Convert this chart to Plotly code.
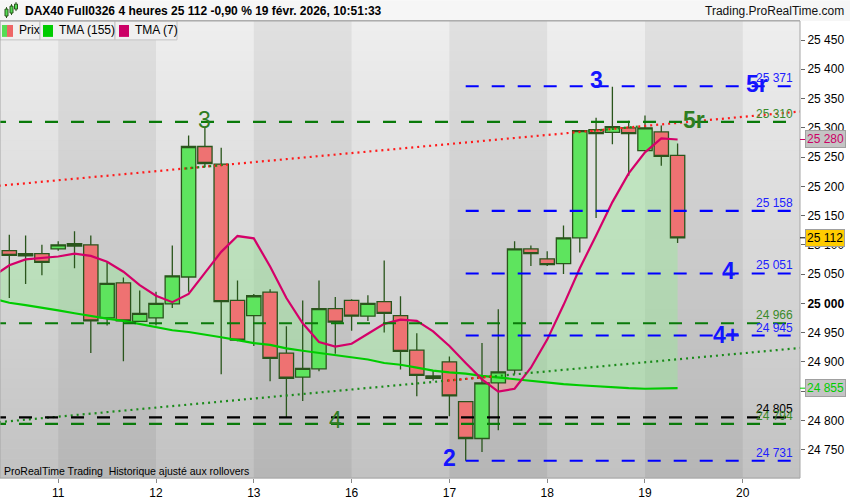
import plotly.graph_objects as go
import numpy as np

# ---------------- data ----------------
day_labels = ["11", "12", "13", "16", "17", "18", "19", "20"]
day_start = [3, 9, 15, 21, 27, 33, 39, 45]          # candle index of first 4h bar of each day
dark_days = [3, 15, 27, 39]                          # days drawn with darker background band

candle_idx = list(range(42))
open_ = [25090, 25081, 25085, 25093, 25102, 25100, 24975, 25035, 24969, 24975,
         24999, 25045, 25268, 25238, 25005, 24979, 25019, 24915, 24874, 24888,
         24991, 25005, 24978, 25003, 24979, 24920, 24876, 24900, 24832, 24769,
         24864, 24886, 25093, 25076, 25068, 25112, 25297, 25292, 25300, 25261,
         25293, 25253]
high = [25117, 25116, 25100, 25106, 25123, 25116, 25071, 25044, 25022, 25020,
        25099, 25287, 25301, 25266, 25039, 25016, 25024, 24961, 25005, 25039,
        25011, 25007, 25014, 25073, 25012, 24949, 24885, 24909, 24832, 24932,
        24990, 25106, 25099, 25089, 25133, 25296, 25317, 25370, 25312, 25321,
        25304, 25273]
low = [25009, 25033, 25048, 25090, 25060, 24915, 24962, 24901, 24968, 24962,
       24992, 25020, 25233, 24879, 24935, 24927, 24867, 24804, 24833, 24884,
       24914, 24953, 24970, 24950, 24887, 24841, 24868, 24807, 24731, 24746,
       24783, 24879, 25064, 25064, 25050, 25087, 25146, 25272, 25218, 25261,
       25235, 25103]
close = [25082, 25085, 25070, 25100, 25098, 24970, 25034, 24970, 24983, 25000,
         25047, 25268, 25239, 25003, 24937, 25013, 24906, 24872, 24889, 24991,
         24968, 24978, 25000, 24983, 24918, 24877, 24872, 24842, 24769, 24864,
         24883, 25093, 25085, 25066, 25112, 25295, 25290, 25302, 25290, 25300,
         25251, 25112]

ma_idx = list(range(-1, 42))
tma155 = [25008, 25001, 24997, 24993, 24988, 24983, 24978, 24974, 24970, 24965,
          24959, 24954, 24951, 24947, 24942, 24937, 24932, 24929, 24923, 24919,
          24915, 24912, 24908, 24904, 24898, 24895, 24890, 24885, 24882, 24880,
          24876, 24873, 24870, 24867, 24864, 24862, 24860, 24858, 24856, 24855,
          24854, 24854, 24855]
tma7 = [25046, 25065, 25075, 25077, 25080, 25085, 25081, 25071, 25054, 25031,
        25013, 25002, 25016, 25052, 25088, 25115, 25111, 25063, 25009, 24966,
        24934, 24926, 24931, 24948, 24965, 24972, 24970, 24952, 24927, 24898,
        24870, 24849, 24854, 24890, 24938, 24997, 25060, 25116, 25173, 25222,
        25258, 25282, 25280]

level_vals = [25371, 25310, 25158, 25051, 24966, 24945, 24805, 24794, 24731]
level_text = ["25 371", "25 310", "25 158", "25 051", "24 966", "24 945", "24 805", "24 794", "24 731"]
level_kind = ["blue", "green", "blue", "blue", "green", "blue", "black", "green", "blue"]
level_from = [28, -1, 28, 28, -1, 28, -1, -1, 28]
level_to = 48.2

wave_text = ["3", "4", "2", "3", "4", "4+", "5r", "5r"]
wave_x = [12, 20, 27, 36, 44.1, 44, 45.9, 42]
wave_y = [25314, 24800, 24735, 25381, 25056, 24946, 25374, 25314]
wave_kind = ["green", "green", "blue", "blue", "blue", "blue", "blue", "green"]

chan_x = [-1, 49]
chan_upper = [25200, 25329]
chan_lower = [24796, 24925]
upper_green_parts = [(10.8, 13.1), (35.5, 38.7)]
lower_red_parts = [(26.9, 29.8)]

ytick_vals = list(range(24750, 25451, 50))

last_price = 25112
tma7_last = 25280
tma155_last = 24855

title_txt = "DAX40 Full0326 4 heures 25 112 -0,90 % 19 févr. 2026, 10:51:33"

# ---------------- helpers ----------------
FONT = "Liberation Sans, Arial, sans-serif"
PW, TOP, BOT = 800.0, 21.0, 481.0
PH = BOT - TOP
XR = [-0.571, 48.51]
YR = [24701.5, 25482.5]


def px(x):
    return x / PW


def py(y):
    return (BOT - y) / PH


def fmt(v):
    return f"{v:,}".replace(",", " ")


COL = {"blue": "#0000ff", "green": "#0a7a0a", "black": "#000000"}
TXTCOL = {"blue": "#2020ff", "green": "#3a8a2a", "black": "#000000"}
WAVECOL = {"blue": "#1414ff", "green": "#2f7d1f"}

fig = go.Figure()

# ---------------- candles ----------------
fig.add_trace(go.Candlestick(
    x=candle_idx, open=open_, high=high, low=low, close=close,
    increasing=dict(fillcolor="#5ee45e", line=dict(color="#2a551c", width=1.3)),
    decreasing=dict(fillcolor="#ee7272", line=dict(color="#2a551c", width=1.3)),
    whiskerwidth=0, hoverinfo="skip"))

# ---------------- moving averages ----------------
fig.add_trace(go.Scatter(x=ma_idx, y=tma155, mode="lines",
                         line=dict(color="#00cc00", width=2.2), hoverinfo="skip"))
fig.add_trace(go.Scatter(x=ma_idx, y=tma7, mode="lines",
                         line=dict(color="#d40069", width=2.2), hoverinfo="skip"))

# ---------------- dotted channel ----------------
def chan(vals, x):
    return vals[0] + (vals[1] - vals[0]) * (x - chan_x[0]) / (chan_x[1] - chan_x[0])

DOT = "2px,4px"
fig.add_trace(go.Scatter(x=chan_x, y=chan_upper, mode="lines",
                         line=dict(color="#ff1a1a", width=2.2, dash=DOT), hoverinfo="skip"))
fig.add_trace(go.Scatter(x=chan_x, y=chan_lower, mode="lines",
                         line=dict(color="#1a8a1a", width=2.2, dash=DOT), hoverinfo="skip"))
for (x0, x1) in upper_green_parts:
    fig.add_trace(go.Scatter(x=[x0, x1], y=[chan(chan_upper, x0), chan(chan_upper, x1)], mode="lines",
                             line=dict(color="#1a8a1a", width=2.2, dash=DOT), hoverinfo="skip"))
for (x0, x1) in lower_red_parts:
    fig.add_trace(go.Scatter(x=[x0, x1], y=[chan(chan_lower, x0), chan(chan_lower, x1)], mode="lines",
                             line=dict(color="#ff1a1a", width=2.2, dash=DOT), hoverinfo="skip"))

# ---------------- horizontal levels ----------------
for v, k, f in zip(level_vals, level_kind, level_from):
    fig.add_trace(go.Scatter(x=[f, level_to], y=[v, v], mode="lines",
                             line=dict(color=COL[k], width=2.2, dash="13px,13px"), hoverinfo="skip"))

# ---------------- shapes (backgrounds, frames) ----------------
shapes = []
nstr = 46
for k in range(nstr):
    y0 = TOP + k * PH / nstr
    y1 = TOP + (k + 1) * PH / nstr + 0.5
    frac = (k + 0.5) / nstr
    c = int(round(238 - (238 - 194) * frac))
    shapes.append(dict(type="rect", xref="paper", yref="paper", x0=0, x1=1, y0=py(y1), y1=py(y0),
                       line=dict(width=0), fillcolor=f"rgb({c},{c},{c})", layer="below"))
for d in dark_days:
    shapes.append(dict(type="rect", xref="x", yref="paper", x0=d, x1=d + 6, y0=0, y1=1,
                       line=dict(width=0), fillcolor="rgba(0,0,0,0.06)", layer="below"))

# fill between the two averages (drawn below the candles)
mx = np.array(ma_idx, float)
a = np.array(tma7, float)
b = np.array(tma155, float)
xs, ya, yb = [mx[0]], [a[0]], [b[0]]
for i in range(1, len(mx)):
    d0 = a[i - 1] - b[i - 1]
    d1 = a[i] - b[i]
    if d0 * d1 < 0:
        t = d0 / (d0 - d1)
        xc = mx[i - 1] + t * (mx[i] - mx[i - 1])
        yc = a[i - 1] + t * (a[i] - a[i - 1])
        xs.append(xc); ya.append(yc); yb.append(yc)
    xs.append(mx[i]); ya.append(a[i]); yb.append(b[i])
ya = np.array(ya); yb = np.array(yb)
up = np.maximum(ya, yb)
lo = np.minimum(ya, yb)
for top, fc in [(up, "rgba(150,235,150,0.42)"), (lo, "rgba(255,140,140,0.45)")]:
    pts = [(x, y) for x, y in zip(xs, top)] + [(x, y) for x, y in zip(xs[::-1], yb[::-1])]
    path = "M " + " L ".join(f"{x:.4f},{y:.3f}" for x, y in pts) + " Z"
    shapes.append(dict(type="path", xref="x", yref="y", path=path, line=dict(width=0),
                       fillcolor=fc, layer="below"))

# title bar
shapes.append(dict(type="rect", xref="paper", yref="paper", x0=0, x1=850 / PW, y0=py(21), y1=py(0),
                   line=dict(width=0), fillcolor="#f6f6f6", layer="above"))
shapes.append(dict(type="line", xref="paper", yref="paper", x0=0, x1=1, y0=py(20.5), y1=py(20.5),
                   line=dict(color="#b4b4b4", width=1)))
# legend cells
for (x0, x1) in [(0, 40), (40, 115), (115, 177)]:
    shapes.append(dict(type="rect", xref="paper", yref="paper", x0=px(x0), x1=px(x1), y0=py(40), y1=py(21),
                       line=dict(color="#c4c4c4", width=1), fillcolor="#f0f0f0", layer="above"))
# legend swatches
shapes.append(dict(type="rect", xref="paper", yref="paper", x0=px(2), x1=px(7), y0=py(37), y1=py(25),
                   line=dict(width=0), fillcolor="#55dd55"))
shapes.append(dict(type="rect", xref="paper", yref="paper", x0=px(7), x1=px(13), y0=py(37), y1=py(25),
                   line=dict(width=0), fillcolor="#ee6666"))
shapes.append(dict(type="rect", xref="paper", yref="paper", x0=px(43), x1=px(53), y0=py(37), y1=py(25),
                   line=dict(width=0), fillcolor="#00cc00"))
shapes.append(dict(type="rect", xref="paper", yref="paper", x0=px(119), x1=px(129), y0=py(37), y1=py(25),
                   line=dict(width=0), fillcolor="#cc0066"))
# small candle icon in title
for (x0, x1, y0, y1, w0, w1) in [(5, 8, 9, 16, 7, 18), (10, 13, 6, 13, 4, 15), (14.5, 17.5, 4, 9, 2, 11)]:
    cx = (x0 + x1) / 2
    shapes.append(dict(type="line", xref="paper", yref="paper", x0=px(cx), x1=px(cx), y0=py(w1), y1=py(w0),
                       line=dict(color="#2a551c", width=1)))
    shapes.append(dict(type="rect", xref="paper", yref="paper", x0=px(x0), x1=px(x1), y0=py(y1), y1=py(y0),
                       line=dict(color="#2a551c", width=1), fillcolor="#55dd55"))
# plot frame
shapes.append(dict(type="rect", xref="paper", yref="paper", x0=0, x1=1, y0=0, y1=1,
                   line=dict(color="#a6a6a6", width=1)))
# coloured axis marks for current values
for v, c in [(tma7_last, "#cc0066"), (last_price, "#000000"), (tma155_last, "#00cc00")]:
    shapes.append(dict(type="line", xref="paper", yref="y", x0=1, x1=1 + 5 / PW, y0=v, y1=v,
                       line=dict(color=c, width=1)))

# ---------------- annotations ----------------
ann = []
ann.append(dict(text="<b>" + title_txt + "</b>", xref="paper", yref="paper", x=px(23), y=py(10.5),
                xanchor="left", yanchor="middle", showarrow=False,
                font=dict(family=FONT, size=12, color="#000000")))
ann.append(dict(text="Trading.ProRealTime.com", xref="paper", yref="paper", x=px(846), y=py(10.5),
                xanchor="right", yanchor="middle", showarrow=False,
                font=dict(family=FONT, size=12, color="#111111")))
for t, x in [("Prix", 17), ("TMA (155)", 57), ("TMA (7)", 133)]:
    ann.append(dict(text=t, xref="paper", yref="paper", x=px(x), y=py(30.5), xanchor="left",
                    yanchor="middle", showarrow=False, font=dict(family=FONT, size=12, color="#000000")))
ann.append(dict(text="ProRealTime Trading  Historique ajusté aux rollovers", xref="paper", yref="paper",
                x=px(2), y=py(474), xanchor="left", yanchor="middle", showarrow=False,
                font=dict(family=FONT, size=10.5, color="#000000")))
for v, t, k in zip(level_vals, level_text, level_kind):
    ann.append(dict(text=t, xref="paper", yref="y", x=px(795), y=v, yshift=8, xanchor="right",
                    yanchor="middle", showarrow=False, font=dict(family=FONT, size=12, color=TXTCOL[k])))
for t, x, y, k in zip(wave_text, wave_x, wave_y, wave_kind):
    txt = "<b>" + t + "</b>" if (k == "blue" or t == "5r") else t
    ann.append(dict(text=txt, xref="x", yref="y", x=x, y=y, xanchor="center", yanchor="middle",
                    showarrow=False, font=dict(family=FONT, size=23, color=WAVECOL[k])))
for v, fc, bg in [(tma7_last, "#cc0066", "#c4c4c4"), (last_price, "#000000", "#ffcc00"),
                  (tma155_last, "#00cc00", "#c4c4c4")]:
    ann.append(dict(text=fmt(v), xref="paper", yref="y", x=1, xshift=5, y=v, xanchor="left",
                    yanchor="middle", showarrow=False, bgcolor=bg, bordercolor="#a0a0a0", borderwidth=1,
                    borderpad=1, font=dict(family=FONT, size=12, color=fc)))

ytext = ["<b>25 000</b>" if v == 25000 else fmt(v) for v in ytick_vals]

fig.update_layout(
    width=850, height=500,
    margin=dict(l=0, r=50, t=21, b=19),
    paper_bgcolor="#ffffff", plot_bgcolor="#d8d8d8",
    showlegend=False, boxgap=0.12, boxgroupgap=0,
    shapes=shapes, annotations=ann,
    xaxis=dict(range=XR, showgrid=False, zeroline=False, rangeslider=dict(visible=False),
               tickmode="array", tickvals=day_start, ticktext=day_labels, ticks="outside",
               ticklen=4, tickcolor="#888888", tickfont=dict(family=FONT, size=12, color="#000000"),
               showline=False),
    yaxis=dict(range=YR, side="right", showgrid=False, zeroline=False, tickmode="array",
               tickvals=ytick_vals, ticktext=ytext, ticks="outside", ticklen=4, tickcolor="#666666",
               tickfont=dict(family=FONT, size=12, color="#000000"), showline=False),
)

fig.write_html("out.html", config={"displayModeBar": False},
               post_script="document.body.style.margin='0px';document.body.style.overflow='hidden';")
